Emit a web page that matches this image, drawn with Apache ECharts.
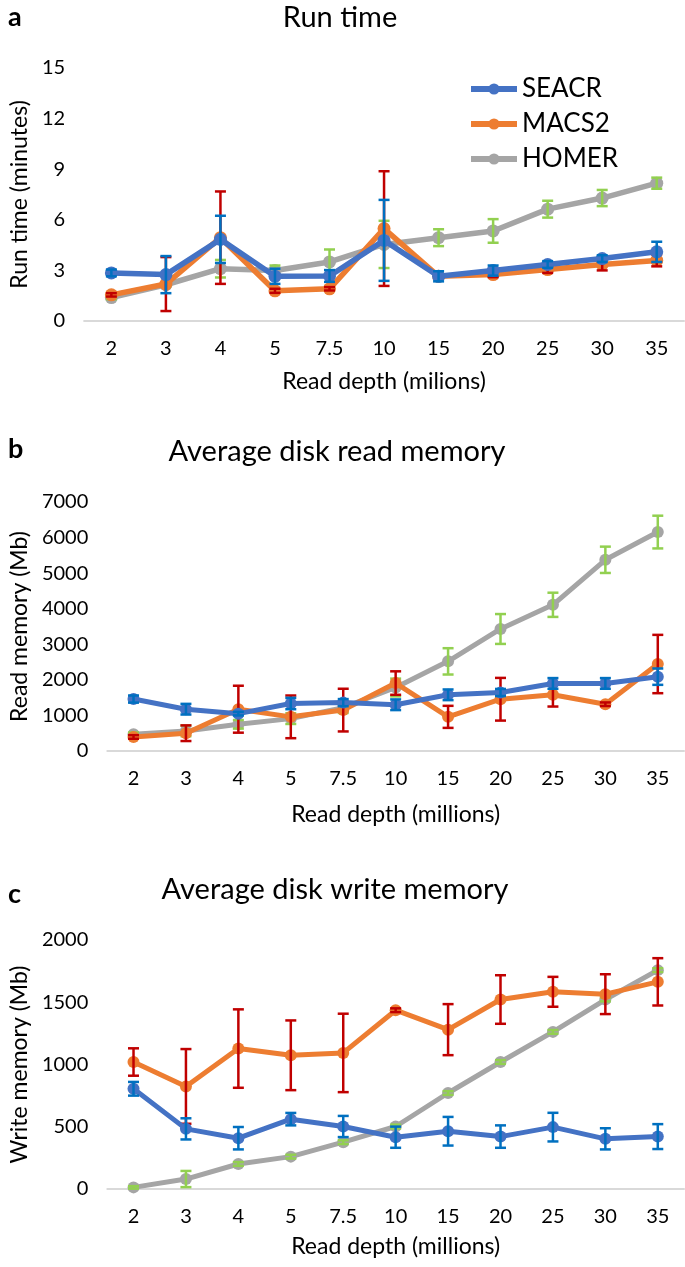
<!DOCTYPE html>
<html>
<head>
<meta charset="utf-8">
<script src="https://cdn.jsdelivr.net/npm/echarts@6/dist/echarts.min.js"></script>
<style>
html,body{margin:0;padding:0;background:#fff;}
#chart{width:685px;height:1267px;}
</style>
</head>
<body>
<div id="chart"></div>
<script>
// ---------- data ----------
const categories = ['2','3','4','5','7.5','10','15','20','25','30','35'];
const seriesNames = ['SEACR','MACS2','HOMER'];

// (a) Run time (minutes)
const rtSEACR    = [2.85,2.75,4.84,2.65,2.67,4.78,2.65,2.99,3.35,3.70,4.10];
const rtSEACRerr = [0.2,1.1,1.4,0.45,0.35,2.4,0.3,0.3,0.2,0.2,0.6];
const rtMACS2    = [1.55,2.19,4.94,1.79,1.91,5.48,2.65,2.75,3.05,3.35,3.59];
const rtMACS2err = [0.1,1.6,2.74,0.12,0.1,3.4,0.1,0.15,0.2,0.35,0.35];
const rtHOMER    = [1.39,2.15,3.10,2.99,3.50,4.54,4.94,5.34,6.63,7.29,8.17];
const rtHOMERerr = [0.1,0.1,0.52,0.3,0.74,1.4,0.5,0.7,0.5,0.48,0.33];

// (b) Average disk read memory (Mb)
const rmSEACR    = [1460,1175,1050,1335,1360,1300,1580,1645,1900,1900,2090];
const rmSEACRerr = [100,150,50,160,100,150,150,100,150,150,230];
const rmMACS2    = [395,500,1175,960,1150,1910,960,1455,1580,1315,2445];
const rmMACS2err = [50,220,660,600,600,330,310,600,330,50,820];
const rmHOMER    = [470,565,750,910,1220,1785,2520,3430,4110,5375,6155];
const rmHOMERerr = [50,150,120,150,150,250,370,420,340,370,460];

// (c) Average disk write memory (Mb)
const wmSEACR    = [805,483,408,561,502,416,464,421,497,403,421];
const wmSEACRerr = [55,85,90,50,85,85,115,90,115,85,100];
const wmMACS2    = [1020,824,1128,1074,1093,1436,1280,1522,1584,1565,1664];
const wmMACS2err = [110,300,315,280,315,15,205,195,120,160,190];
const wmHOMER    = [13,80,201,260,376,502,771,1020,1262,1522,1758];
const wmHOMERerr = [10,65,15,15,15,15,15,15,15,15,15];

// ---------- styling ----------
const FONT = 'Lato, "Open Sans", sans-serif';
const lineColors = {SEACR:'#4472C4', MACS2:'#ED7D31', HOMER:'#A5A5A5'};
const errColors  = {SEACR:'#0070C0', MACS2:'#C00000', HOMER:'#92D050'};
const zOrder     = {HOMER:2, MACS2:4, SEACR:6};

const panels = [
  {vals:{SEACR:rtSEACR, MACS2:rtMACS2, HOMER:rtHOMER},
   errs:{SEACR:rtSEACRerr, MACS2:rtMACS2err, HOMER:rtHOMERerr},
   grid:{left:80, right:1, top:68, height:253},
   y:{min:0, max:15, interval:3, name:'Run time (minutes)', nameGap:52},
   xname:'Read depth (milions)', xgap:49, lw:5.5, ss:13},
  {vals:{SEACR:rmSEACR, MACS2:rmMACS2, HOMER:rmHOMER},
   errs:{SEACR:rmSEACRerr, MACS2:rmMACS2err, HOMER:rmHOMERerr},
   grid:{left:100, right:1, top:502, height:249},
   y:{min:0, max:7000, interval:1000, name:'Read memory (Mb)', nameGap:73},
   xname:'Read depth (millions)', xgap:52, lw:5, ss:12},
  {vals:{SEACR:wmSEACR, MACS2:wmMACS2, HOMER:wmHOMER},
   errs:{SEACR:wmSEACRerr, MACS2:wmMACS2err, HOMER:wmHOMERerr},
   grid:{left:100, right:1, top:940, height:249},
   y:{min:0, max:2000, interval:500, name:'Write memory (Mb)', nameGap:73},
   xname:'Read depth (millions)', xgap:46, lw:5, ss:12}
];

const grids = [], xAxes = [], yAxes = [], series = [];
panels.forEach((p, i) => {
  grids.push(Object.assign({containLabel:false}, p.grid));
  xAxes.push({
    type:'category', gridIndex:i, data:categories, boundaryGap:true,
    axisLine:{show:true, lineStyle:{color:'#D9D9D9', width:2}},
    axisTick:{show:false},
    axisLabel:{color:'#000', fontFamily:FONT, fontSize:20, margin:18},
    name:p.xname, nameLocation:'middle', nameGap:p.xgap,
    nameTextStyle:{color:'#000', fontFamily:FONT, fontSize:23}
  });
  yAxes.push({
    type:'value', gridIndex:i, min:p.y.min, max:p.y.max, interval:p.y.interval,
    axisLine:{show:false}, axisTick:{show:false}, splitLine:{show:false},
    axisLabel:{color:'#000', fontFamily:FONT, fontSize:20, margin:19,
               formatter:v => String(v)},
    name:p.y.name, nameLocation:'middle', nameGap:p.y.nameGap,
    nameTextStyle:{color:'#000', fontFamily:FONT, fontSize:23}
  });
  seriesNames.forEach(n => {
    series.push({
      type:'line', name:n, xAxisIndex:i, yAxisIndex:i, data:p.vals[n],
      symbol:'circle', symbolSize:p.ss, z:zOrder[n],
      lineStyle:{color:lineColors[n], width:p.lw},
      itemStyle:{color:lineColors[n]},
      emphasis:{disabled:true}, animation:false
    });
    const errData = p.vals[n].map((v, k) => [k, v - p.errs[n][k], v + p.errs[n][k]]);
    series.push({
      type:'custom', name:n + ' error', xAxisIndex:i, yAxisIndex:i,
      data:errData, z:zOrder[n] + 1, animation:false, silent:true,
      encode:{x:0, y:[1,2]},
      renderItem:(params, api) => {
        const x = api.value(0);
        const lo = api.coord([x, api.value(1)]);
        const hi = api.coord([x, api.value(2)]);
        const w = 5.5;
        const st = {stroke:errColors[n], lineWidth:2.5};
        return {type:'group', children:[
          {type:'line', shape:{x1:lo[0], y1:lo[1], x2:hi[0], y2:hi[1]}, style:st},
          {type:'line', shape:{x1:lo[0]-w, y1:lo[1], x2:lo[0]+w, y2:lo[1]}, style:st},
          {type:'line', shape:{x1:hi[0]-w, y1:hi[1], x2:hi[0]+w, y2:hi[1]}, style:st}
        ]};
      }
    });
  });
});

const titleStyle = {fill:'#000', font:'29px ' + FONT, textAlign:'center', textVerticalAlign:'middle'};
const letterStyle = {fill:'#000', font:'bold 27px ' + FONT, textAlign:'left', textVerticalAlign:'top'};

const option = {
  backgroundColor:'#fff',
  animation:false,
  grid:grids, xAxis:xAxes, yAxis:yAxes, series:series,
  legend:{
    data:seriesNames, orient:'vertical', left:463, top:71,
    itemWidth:46, itemHeight:14, itemGap:9,
    lineStyle:{width:6},
    textStyle:{color:'#000', fontFamily:FONT, fontSize:26},
    selectedMode:false
  },
  graphic:[
    {type:'text', left:8, top:4, style:Object.assign({text:'a'}, letterStyle)},
    {type:'text', left:8, top:436, style:Object.assign({text:'b'}, letterStyle)},
    {type:'text', left:8, top:881, style:Object.assign({text:'c'}, letterStyle)},
    {type:'text', x:340, y:18, style:Object.assign({text:'Run time'}, titleStyle)},
    {type:'text', x:337, y:452, style:Object.assign({text:'Average disk read memory'}, titleStyle)},
    {type:'text', x:335, y:890, style:Object.assign({text:'Average disk write memory'}, titleStyle)}
  ]
};

const chart = echarts.init(document.getElementById('chart'), null, {renderer:'canvas'});
chart.setOption(option);
</script>
</body>
</html>
